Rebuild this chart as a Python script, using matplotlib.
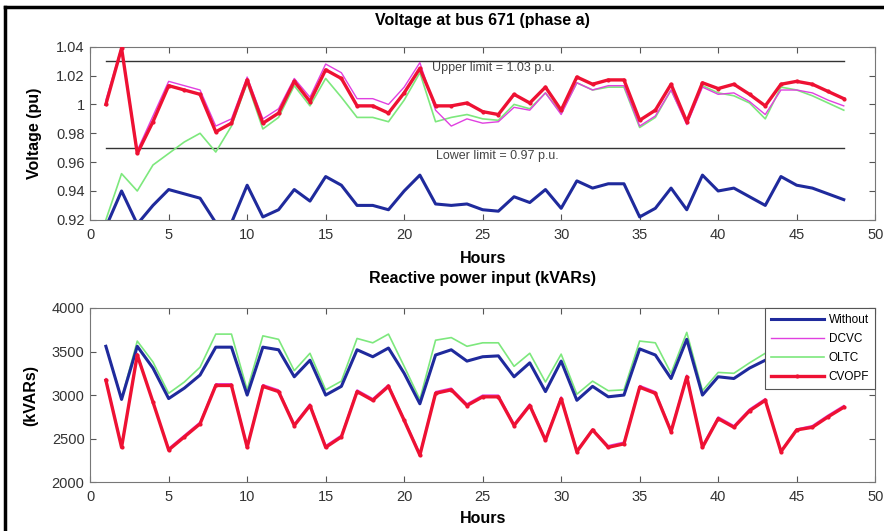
import matplotlib
matplotlib.use("Agg")
import matplotlib.pyplot as plt
from matplotlib.lines import Line2D

hours = list(range(1, 49))

# Voltage at bus 671 (phase a), p.u.
v_without = [0.915, 0.940, 0.917, 0.930, 0.941, 0.938, 0.935, 0.918, 0.918, 0.944,
             0.922, 0.927, 0.941, 0.933, 0.950, 0.944, 0.930, 0.930, 0.927, 0.940,
             0.951, 0.931, 0.930, 0.931, 0.927, 0.926, 0.936, 0.932, 0.941, 0.928,
             0.947, 0.942, 0.945, 0.945, 0.922, 0.928, 0.942, 0.927, 0.951, 0.940,
             0.942, 0.936, 0.930, 0.950, 0.944, 0.942, 0.938, 0.934]
v_dcvc = [1.003, 1.040, 0.968, 0.992, 1.016, 1.013, 1.010, 0.985, 0.990, 1.019,
          0.990, 0.997, 1.018, 1.005, 1.028, 1.022, 1.004, 1.004, 1.000, 1.012,
          1.029, 0.996, 0.985, 0.990, 0.987, 0.988, 0.998, 0.996, 1.008, 0.993,
          1.015, 1.010, 1.013, 1.013, 0.985, 0.992, 1.010, 0.986, 1.012, 1.007,
          1.008, 1.002, 0.993, 1.010, 1.010, 1.008, 1.003, 0.999]
v_oltc = [0.920, 0.952, 0.940, 0.958, 0.966, 0.974, 0.980, 0.967, 0.985, 1.015,
          0.983, 0.991, 1.013, 0.999, 1.018, 1.005, 0.991, 0.991, 0.988, 1.003,
          1.022, 0.988, 0.991, 0.993, 0.990, 0.989, 1.000, 0.997, 1.008, 0.994,
          1.015, 1.010, 1.012, 1.012, 0.984, 0.991, 1.010, 0.987, 1.013, 1.008,
          1.006, 1.001, 0.990, 1.012, 1.010, 1.006, 1.001, 0.996]
v_cvopf = [1.000, 1.039, 0.966, 0.988, 1.013, 1.010, 1.007, 0.981, 0.987, 1.017,
           0.987, 0.994, 1.016, 1.002, 1.024, 1.018, 0.999, 0.999, 0.994, 1.008,
           1.025, 0.999, 0.999, 1.001, 0.995, 0.993, 1.007, 1.001, 1.012, 0.996,
           1.019, 1.014, 1.017, 1.017, 0.989, 0.996, 1.014, 0.988, 1.015, 1.011,
           1.014, 1.007, 0.999, 1.014, 1.016, 1.014, 1.009, 1.004]

# Reactive power input (kVARs)
q_without = [3560, 2950, 3560, 3310, 2960, 3080, 3230, 3550, 3550, 3000,
             3550, 3520, 3210, 3400, 3000, 3100, 3520, 3440, 3540, 3250,
             2900, 3460, 3520, 3390, 3440, 3450, 3210, 3370, 3040, 3390,
             2940, 3100, 2980, 3000, 3530, 3460, 3190, 3640, 3000, 3210,
             3190, 3310, 3400, 3450, 3500, 3550, 3550, 3600]
q_dcvc = [3190, 2420, 3480, 2920, 2390, 2540, 2690, 3130, 3130, 2420,
          3120, 3060, 2670, 2900, 2420, 2540, 3060, 2960, 3120, 2730,
          2330, 3040, 3080, 2900, 3000, 3000, 2670, 2900, 2500, 2980,
          2370, 2610, 2420, 2460, 3110, 3040, 2600, 3230, 2420, 2750,
          2650, 2840, 2960, 2360, 2610, 2650, 2770, 2880]
q_oltc = [3560, 2960, 3620, 3380, 3020, 3150, 3320, 3700, 3700, 3060,
          3680, 3640, 3280, 3480, 3060, 3160, 3650, 3600, 3700, 3330,
          2950, 3630, 3660, 3560, 3600, 3600, 3330, 3480, 3150, 3470,
          3010, 3160, 3050, 3060, 3620, 3600, 3250, 3720, 3050, 3260,
          3250, 3370, 3480, 3520, 3560, 3600, 3620, 3650]
q_cvopf = [3170, 2400, 3460, 2920, 2370, 2520, 2670, 3110, 3110, 2400,
           3100, 3040, 2650, 2880, 2400, 2520, 3040, 2940, 3100, 2710,
           2310, 3020, 3060, 2880, 2980, 2980, 2650, 2880, 2480, 2960,
           2350, 2600, 2400, 2440, 3090, 3020, 2580, 3210, 2400, 2730,
           2630, 2820, 2940, 2350, 2600, 2630, 2750, 2860]

series_names = ["Without", "DCVC", "OLTC", "CVOPF"]
upper_limit = 1.03
lower_limit = 0.97

c_without = "#1f2a9c"
c_dcvc = "#e040e0"
c_oltc = "#7de87d"
c_cvopf = "#ee1133"

plt.rcParams['font.family'] = ['Liberation Sans', 'DejaVu Sans']

fig = plt.figure(figsize=(8.84, 5.31), dpi=100)
ax1 = fig.add_axes([0.102, 0.586, 0.888, 0.326])
ax2 = fig.add_axes([0.102, 0.092, 0.888, 0.328])


def style(ax):
    ax.tick_params(direction='in', which='both', top=True, right=True,
                   labelsize=10.5, length=4, color='#555555', labelcolor='#333333')
    ax.tick_params(axis='x', pad=6)
    ax.tick_params(axis='y', pad=4)
    for s in ax.spines.values():
        s.set_color('#777777')
        s.set_linewidth(0.8)
    ax.set_xlim(0, 50)
    ax.set_xticks(range(0, 51, 5))


def plot_all(ax, w, d, o, c):
    ax.plot(hours, o, color=c_oltc, lw=1.2, zorder=2)
    ax.plot(hours, d, color=c_dcvc, lw=1.0, zorder=3)
    ax.plot(hours, w, color=c_without, lw=2.2, zorder=4)
    ax.plot(hours, c, color=c_cvopf, lw=2.4, marker='.', ms=4, zorder=5)


plot_all(ax1, v_without, v_dcvc, v_oltc, v_cvopf)
ax1.plot([hours[0], hours[-1]], [upper_limit, upper_limit], color='#333333', lw=1.0, zorder=1)
ax1.plot([hours[0], hours[-1]], [lower_limit, lower_limit], color='#333333', lw=1.0, zorder=1)
ax1.text(21.8, upper_limit - 0.0005, "Upper limit = 1.03 p.u.", fontsize=9, va='top', color='#444444')
ax1.text(22.0, lower_limit - 0.0015, "Lower limit = 0.97 p.u.", fontsize=9, va='top', color='#444444')
style(ax1)
ax1.set_ylim(0.92, 1.04)
yt = [0.92, 0.94, 0.96, 0.98, 1.00, 1.02, 1.04]
ax1.set_yticks(yt)
ax1.set_yticklabels(["0.92", "0.94", "0.96", "0.98", "1", "1.02", "1.04"])
ax1.set_title("Voltage at bus 671 (phase a)", fontsize=11.5, fontweight='bold', pad=16)
ax1.set_xlabel("Hours", fontsize=11.5, fontweight='bold', labelpad=6)
ax1.set_ylabel("Voltage (pu)", fontsize=11.5, fontweight='bold', labelpad=10)

plot_all(ax2, q_without, q_dcvc, q_oltc, q_cvopf)
style(ax2)
ax2.set_ylim(2000, 4000)
ax2.set_yticks(range(2000, 4001, 500))
ax2.set_title("Reactive power input (kVARs)", fontsize=11.5, fontweight='bold', pad=18)
ax2.set_xlabel("Hours", fontsize=11.5, fontweight='bold', labelpad=5)
ax2.set_ylabel("(kVARs)", fontsize=11.5, fontweight='bold', labelpad=10)

handles = [Line2D([], [], color=c_without, lw=2.2),
           Line2D([], [], color=c_dcvc, lw=1.0),
           Line2D([], [], color=c_oltc, lw=1.2),
           Line2D([], [], color=c_cvopf, lw=2.4, marker='.', ms=4)]
leg = ax2.legend(handles, series_names, loc='upper right', fontsize=8.5,
                 frameon=True, fancybox=False, framealpha=1, edgecolor='#555555',
                 borderaxespad=0.0, handlelength=4.5, labelspacing=0.6,
                 borderpad=0.5, handletextpad=0.4)
leg.set_zorder(10)
leg.get_frame().set_linewidth(0.8)

# figure frame
fig.add_artist(Line2D([0.006, 0.006], [0.0, 0.986], color='black', lw=2.5, transform=fig.transFigure))
fig.add_artist(Line2D([0.006, 1.0], [0.986, 0.986], color='black', lw=2.5, transform=fig.transFigure))

fig.savefig("out.png", dpi=100)
